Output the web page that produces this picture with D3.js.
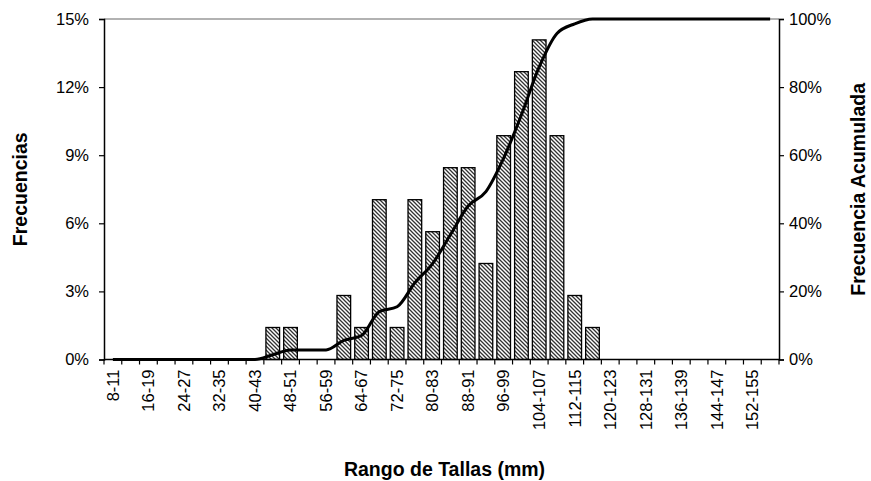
<!DOCTYPE html>
<html>
<head>
<meta charset="utf-8">
<script src="https://cdn.jsdelivr.net/npm/d3@7"></script>
<style>
  body { margin: 0; background: #fff; }
  svg { display: block; font-family: "Liberation Sans", Arial, sans-serif; }
</style>
</head>
<body>
<svg id="chart" width="871" height="481"></svg>
<script>
// ---- Data ----
const categories = ["8-11","12-15","16-19","20-23","24-27","28-31","32-35","36-39","40-43","44-47",
  "48-51","52-55","56-59","60-63","64-67","68-71","72-75","76-79","80-83","84-87",
  "88-91","92-95","96-99","100-103","104-107","108-111","112-115","116-119","120-123","124-127",
  "128-131","132-135","136-139","140-143","144-147","148-151","152-155","156-159"];
// relative frequency (%) per size class
const frequencies = [0,0,0,0,0,0,0,0,0,1.41,
  1.41,0,0,2.82,1.41,7.04,1.41,7.04,5.63,8.45,
  8.45,4.23,9.86,12.68,14.08,9.86,2.82,1.41,0,0,
  0,0,0,0,0,0,0,0];
// cumulative frequency (%)
const cumulative = [0,0,0,0,0,0,0,0,0,1.41,
  2.82,2.82,2.82,5.63,7.04,14.08,15.49,22.54,28.17,36.62,
  45.07,49.30,59.15,71.83,85.92,95.77,98.59,100,100,100,
  100,100,100,100,100,100,100,100];
const leftTicks = [0,3,6,9,12,15];
const rightTicks = [0,20,40,60,80,100];

// ---- Layout ----
const L = 104, R = 779, T = 19, B = 359.5;
const FS = 16.5, TFS = 19.5;
const svg = d3.select("#chart");

const defs = svg.append("defs");
const pat = defs.append("pattern").attr("id","hatch").attr("patternUnits","userSpaceOnUse")
  .attr("width",4).attr("height",4);
pat.append("rect").attr("width",4).attr("height",4).attr("fill","#fff");
pat.append("path").attr("d","M-1,-1 L5,5 M-1,3 L1,5 M3,-1 L5,1")
  .attr("stroke","#333").attr("stroke-width",1.3);

const xSlot = d3.scaleBand().domain(categories).range([L, R]).padding(0);
const pi = 0.3/1.3;
const xBar = d3.scaleBand().domain(categories).range([L, R]).paddingInner(pi).paddingOuter(pi/2);
const yL = d3.scaleLinear().domain([0,15]).range([B, T]);
const yR = d3.scaleLinear().domain([0,100]).range([B, T]);

// top border
svg.append("line").attr("x1",L).attr("x2",R).attr("y1",T).attr("y2",T)
  .attr("stroke","#999").attr("stroke-width",1.5);

// bars
svg.append("g").selectAll("rect")
  .data(categories.map((c,i)=>({c, v: frequencies[i]})).filter(d=>d.v>0))
  .join("rect")
  .attr("x", d=>xBar(d.c)).attr("width", xBar.bandwidth())
  .attr("y", d=>yL(d.v)).attr("height", d=>B - yL(d.v))
  .attr("fill","url(#hatch)").attr("stroke","#000").attr("stroke-width",1.3);

// cumulative line
const line = d3.line()
  .x((d,i)=>xSlot(categories[i]) + xSlot.bandwidth()/2)
  .y(d=>yR(d))
  .curve(d3.curveMonotoneX);
svg.append("path").datum(cumulative).attr("d", line)
  .attr("fill","none").attr("stroke","#000").attr("stroke-width",3)
  .attr("stroke-linejoin","round");

// left axis
const gL = svg.append("g").attr("transform",`translate(${L},0)`)
  .call(d3.axisLeft(yL).tickValues(leftTicks).tickFormat(d=>d+"%").tickSize(5).tickPadding(10));
// right axis
const gR = svg.append("g").attr("transform",`translate(${R},0)`)
  .call(d3.axisRight(yR).tickValues(rightTicks).tickFormat(d=>d+"%").tickSize(5).tickPadding(5));
// bottom axis: ticks at category boundaries
const gB = svg.append("g");
gB.append("line").attr("x1",L).attr("x2",R).attr("y1",B).attr("y2",B)
  .attr("stroke","#000").attr("stroke-width",1.5);
const bounds = categories.map(c=>xSlot(c)).concat([R]);
gB.selectAll("line.tk").data(bounds).join("line").attr("class","tk")
  .attr("x1",d=>d).attr("x2",d=>d).attr("y1",B).attr("y2",B+5)
  .attr("stroke","#000").attr("stroke-width",1.2);
gB.selectAll("text").data(categories.filter((c,i)=>i%2===0)).join("text")
  .attr("transform", c=>`translate(${xSlot(c)+xSlot.bandwidth()/2},${B+10}) rotate(-90)`)
  .attr("dy","0.35em")
  .attr("text-anchor","end").attr("font-size",FS).attr("fill","#000").text(c=>c);

[gL,gR].forEach(g=>{
  g.select(".domain").attr("stroke","#000").attr("stroke-width",1.5);
  g.selectAll(".tick line").attr("stroke","#000").attr("stroke-width",1.2);
  g.selectAll(".tick text").attr("font-size",FS).attr("fill","#000")
    .attr("font-family","'Liberation Sans', Arial, sans-serif");
});

// titles
svg.append("text").attr("x", (L+R)/2 + 3).attr("y", 476).attr("text-anchor","middle")
  .attr("font-size",TFS).attr("font-weight","bold").text("Rango de Tallas (mm)");
svg.append("text").attr("transform",`translate(27,${(T+B)/2}) rotate(-90)`)
  .attr("text-anchor","middle").attr("font-size",TFS).attr("font-weight","bold").text("Frecuencias");
svg.append("text").attr("transform",`translate(865,${(T+B)/2}) rotate(-90)`)
  .attr("text-anchor","middle").attr("font-size",TFS).attr("font-weight","bold").text("Frecuencia Acumulada");
</script>
</body>
</html>
